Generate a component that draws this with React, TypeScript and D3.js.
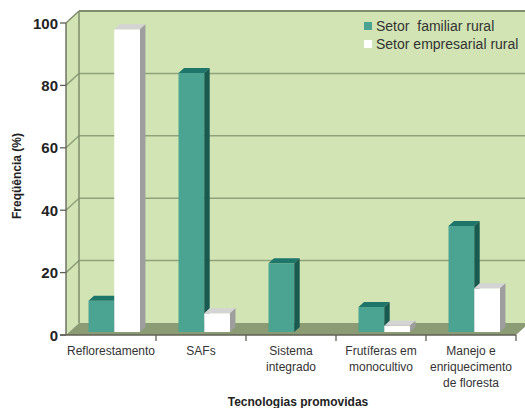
import React from "react";
import * as d3 from "d3";

// Data
const categories = [
  "Reflorestamento",
  "SAFs",
  "Sistema\nintegrado",
  "Frutíferas em\nmonocultivo",
  "Manejo e\nenriquecimento\nde floresta",
];
const familiar = [10, 83, 22, 8, 34];
const empresarial = [97, 6, 0, 2, 14];
const seriesNames = ["Setor  familiar rural", "Setor empresarial rural"];
const yTicks = [0, 20, 40, 60, 80, 100];

const W = 525;
const H = 408;

// 3D box geometry
const DX = 13; // depth shift to the right
const DY = -12; // depth shift upwards
const BAR_FRONT = 0.25; // fraction of depth where bar fronts sit
const BAR_DEPTH = 0.42; // fraction of depth occupied by bars

const colors = {
  wall: "#d2e4b3",
  floor: "#8b9b73",
  grid: "#8fa27c",
  wallEdge: "#7f8d6e",
  axis: "#5f5f55",
  familiar: { front: "#4ba391", top: "#1e766b", side: "#185a50" },
  empresarial: { front: "#ffffff", top: "#d4d4d4", side: "#9e9e9e" },
};

export default function App() {
  const x = d3.scaleBand<string>().domain(categories).range([66, 516]);
  const y = d3.scaleLinear().domain([0, 100]).range([335, 23]);
  const bw = x.bandwidth();
  const barW = bw * 0.286;

  const x0 = x.range()[0];
  const x1 = x.range()[1];
  const yBase = y(0);
  const yTop = y(100);

  const fx = BAR_FRONT * DX;
  const fy = BAR_FRONT * DY;
  const bdx = BAR_DEPTH * DX;
  const bdy = BAR_DEPTH * DY;

  const series = [
    { values: familiar, c: colors.familiar },
    { values: empresarial, c: colors.empresarial },
  ];

  const bars: React.ReactNode[] = [];
  categories.forEach((cat, i) => {
    const cx = (x(cat) as number) + bw / 2;
    series.forEach((s, j) => {
      const v = s.values[i];
      if (v <= 0) return;
      const left = cx - barW + j * barW + fx;
      const right = left + barW;
      const bottom = yBase + fy;
      const top = y(v) + fy;
      bars.push(
        <g key={`${i}-${j}`}>
          <rect x={left} y={top} width={barW} height={bottom - top} fill={s.c.front} />
          <polygon
            points={`${left},${top} ${left + bdx},${top + bdy} ${right + bdx},${top + bdy} ${right},${top}`}
            fill={s.c.top}
          />
          <polygon
            points={`${right},${top} ${right + bdx},${top + bdy} ${right + bdx},${bottom + bdy} ${right},${bottom}`}
            fill={s.c.side}
          />
        </g>
      );
    });
  });

  const font = "'Liberation Sans', Arial, sans-serif";

  return (
    <svg
      width={W}
      height={H}
      viewBox={`0 0 ${W} ${H}`}
      style={{ position: "absolute", left: 0, top: 0, background: "#ffffff" }}
      fontFamily={font}
    >
      {/* back wall */}
      <rect x={x0 + DX} y={yTop + DY} width={W - (x0 + DX) + 10} height={yBase - yTop} fill={colors.wall} />
      {/* side wall */}
      <polygon
        points={`${x0},${yTop} ${x0 + DX},${yTop + DY} ${x0 + DX},${yBase + DY} ${x0},${yBase}`}
        fill={colors.wall}
      />
      {/* floor */}
      <polygon
        points={`${x0},${yBase} ${x1},${yBase} ${x1 + DX},${yBase + DY} ${x0 + DX},${yBase + DY}`}
        fill={colors.floor}
      />
      {/* gridlines */}
      {yTicks
        .filter((t) => t > 0 && t < 100)
        .map((t) => (
          <g key={t} stroke={colors.grid} strokeWidth={1.5} fill="none">
            <line x1={x0 + DX} x2={W + 5} y1={y(t) + DY} y2={y(t) + DY} />
            <line x1={x0} x2={x0 + DX} y1={y(t)} y2={y(t) + DY} />
          </g>
        ))}
      {/* wall edges */}
      <g stroke={colors.wallEdge} fill="none">
        <line x1={x0 + DX} x2={W + 5} y1={yTop + DY} y2={yTop + DY} strokeWidth={2} />
        <line x1={x0} x2={x0 + DX} y1={yTop} y2={yTop + DY} strokeWidth={1.5} />
        <line x1={x0 + DX} x2={x0 + DX} y1={yTop + DY} y2={yBase + DY} strokeWidth={1.5} />
      </g>

      {bars}

      {/* axes */}
      <g stroke={colors.axis} strokeWidth={1.3}>
        <line x1={x0} x2={x0} y1={yTop} y2={yBase} />
        <line x1={x0 - 6} x2={x1} y1={yBase} y2={yBase} />
        {yTicks.map((t) => (
          <line key={t} x1={x0 - 6} x2={x0} y1={y(t)} y2={y(t)} />
        ))}
        {categories.map((c) => {
          const xr = (x(c) as number) + bw;
          return <line key={c} x1={xr} x2={xr} y1={yBase} y2={yBase + 6} />;
        })}
      </g>

      {/* y tick labels */}
      {yTicks.map((t) => (
        <text
          key={t}
          x={x0 - 8}
          y={y(t) + 5.5}
          textAnchor="end"
          fontSize={15}
          fontWeight="bold"
          fill="#222"
        >
          {t}
        </text>
      ))}

      {/* category labels */}
      {categories.map((c) => {
        const cx = (x(c) as number) + bw / 2;
        return (
          <text key={c} textAnchor="middle" fontSize={12} fill="#333">
            {c.split("\n").map((line, k) => (
              <tspan key={k} x={cx} y={355 + k * 16}>
                {line}
              </tspan>
            ))}
          </text>
        );
      })}

      {/* axis titles */}
      <text x={298} y={406} textAnchor="middle" fontSize={12} fontWeight="bold" fill="#222">
        Tecnologias promovidas
      </text>
      <text
        transform={`translate(21,176) rotate(-90)`}
        textAnchor="middle"
        fontSize={12}
        fontWeight="bold"
        fill="#222"
      >
        Freqüência (%)
      </text>

      {/* legend */}
      {seriesNames.map((n, i) => (
        <g key={n} transform={`translate(364,${22 + i * 18})`}>
          <rect x={0} y={0} width={8} height={8} fill={i === 0 ? colors.familiar.front : "#ffffff"} />
          <text x={12} y={8.8} fontSize={14} fill="#333" style={{ whiteSpace: "pre" }}>
            {n}
          </text>
        </g>
      ))}
    </svg>
  );
}
